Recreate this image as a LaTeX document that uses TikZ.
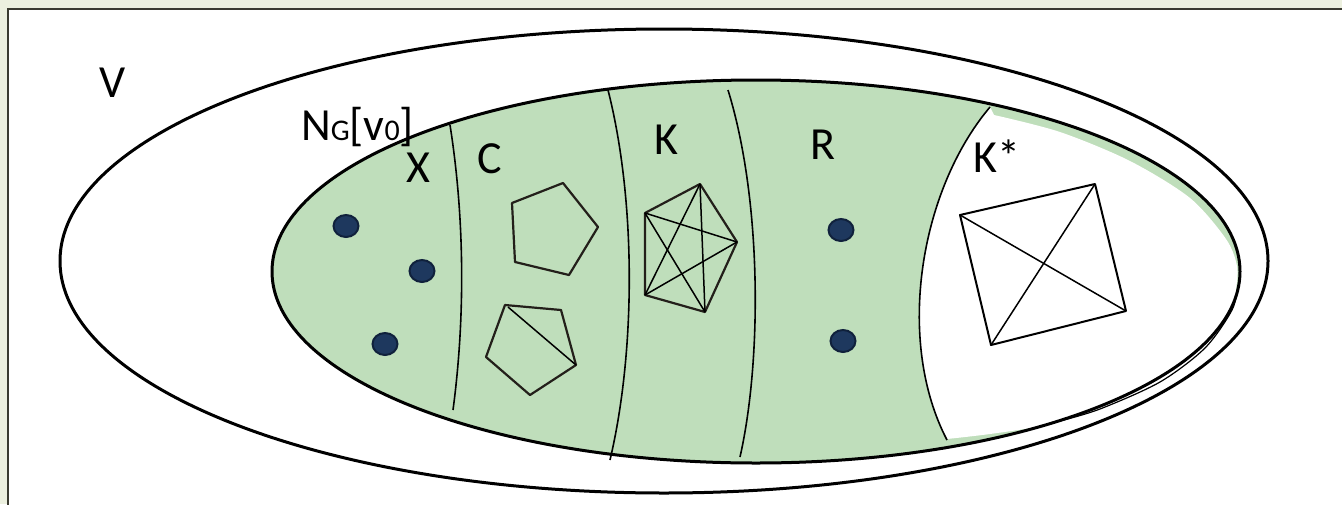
\documentclass[tikz,border=0pt]{standalone}
\usepackage{fontspec}
\setmainfont{Carlito}
\definecolor{bgbeige}{RGB}{236,240,223}
\definecolor{frameline}{RGB}{58,58,48}
\definecolor{setgreen}{RGB}{191,222,187}
\definecolor{dotfill}{RGB}{30,56,94}
\definecolor{dotrim}{RGB}{16,33,60}
\definecolor{polyline}{RGB}{35,31,26}
\tikzset{
  bigset/.style={line width=3pt, draw=black},
  sepline/.style={line width=1.6pt, draw=black},
  polyedge/.style={line width=2.2pt, draw=polyline, line join=round},
  chord/.style={line width=1.5pt, draw=black},
  vdot/.style={fill=dotfill, draw=dotrim, line width=2pt},
  lbl/.style={font=\fontsize{46}{50}\selectfont, inner sep=0pt, anchor=base},
}
\begin{document}
\begin{tikzpicture}[x=1pt,y=-1pt]
\useasboundingbox (0,0) rectangle (1342,504);
% background and panel
\fill[bgbeige] (0,0) rectangle (1342,504);
\filldraw[fill=white, draw=frameline, line width=2.5pt] (8,9) rectangle (1360,520);
% outer set V
\draw[bigset] (664,261) ellipse [x radius=604, y radius=232];
% inner set (green)
\fill[setgreen] (756,271.5) ellipse [x radius=484, y radius=191.5];
% K* white region
\fill[white] (990,107) -- (994,115) -- plot[smooth] coordinates {(994,115) (1060,132) (1130,161) (1190,198) (1226,239) (1237,266) (1236,290) (1232,310) (1205,348) (1160,382) (1100,409) (1040,426) (990,434) (947,439)}
  .. controls (895,340) and (920,190) .. (990,107) -- cycle;
\draw[line width=1.2pt] plot[smooth] coordinates {(1238,285) (1232,310) (1205,348) (1160,382) (1100,409) (1060,421)};
\draw[bigset] (756,271.5) ellipse [x radius=484, y radius=191.5];
% separators
\coordinate (s1a) at (450,125); \coordinate (s1b) at (453,410);
\coordinate (s2a) at (608,90);  \coordinate (s2b) at (610,460);
\coordinate (s3a) at (728,90);  \coordinate (s3b) at (740,457);
\coordinate (s4a) at (990,107); \coordinate (s4b) at (947,440);
\draw[sepline] (s1a) .. controls (465,220) and (465,320) .. (s1b);
\draw[sepline] (s2a) .. controls (636,200) and (636,350) .. (s2b);
\draw[sepline] (s3a) .. controls (762,200) and (762,360) .. (s3b);
\draw[sepline] (s4a) .. controls (920,190) and (895,340) .. (s4b);
% vertices X and R
\draw[vdot] (346,226) ellipse [x radius=12.5, y radius=11];
\draw[vdot] (422,271) ellipse [x radius=12.5, y radius=11];
\draw[vdot] (385,344) ellipse [x radius=12.5, y radius=11];
\draw[vdot] (841,230) ellipse [x radius=12.5, y radius=11];
\draw[vdot] (843,341) ellipse [x radius=12.5, y radius=11];
% C pentagons
\draw[polyedge] (512,203) -- (563,183) -- (598,227) -- (569,275) -- (515,262) -- cycle;
\draw[polyedge] (505,305) -- (561,310) -- (576,365) -- (530,395) -- (486,357) -- cycle;
\draw[chord] (508,307) -- (576,365);
% K : complete graph K5
\coordinate (ka) at (645,213);
\coordinate (kb) at (700,184);
\coordinate (kc) at (737,242);
\coordinate (kd) at (705,312);
\coordinate (ke) at (645,295);
\draw[polyedge] (ka) -- (kb) -- (kc) -- (kd) -- (ke) -- cycle;
\draw[chord] (ka) -- (kc);
\draw[chord] (ka) -- (kd);
\draw[chord] (kb) -- (kd);
\draw[chord] (kb) -- (ke);
\draw[chord] (kc) -- (ke);
% K* : complete graph K4
\coordinate (qa) at (960,215);
\coordinate (qb) at (1095,184);
\coordinate (qc) at (1126,311);
\coordinate (qd) at (991,345);
\draw[line width=2pt, line join=round] (qa) -- (qb) -- (qc) -- (qd) -- cycle;
\draw[chord] (qa) -- (qc);
\draw[chord] (qb) -- (qd);
% labels
\node[lbl] (lV) at (113,97) {V};
\node[font=\fontsize{46}{50}\selectfont, inner sep=0pt, anchor=base west] (lN) at (301,140) {N{\fontsize{30}{30}\selectfont G}[v{\fontsize{30}{30}\selectfont 0}]};
\node[lbl] (lX) at (418,182) {X};
\node[lbl] (lC) at (490,173) {C};
\node[lbl] (lK) at (666,154) {K};
\node[lbl] (lR) at (823,159) {R};
\node[lbl] (lKs) at (997,172) {K*};
\end{tikzpicture}
\end{document}
